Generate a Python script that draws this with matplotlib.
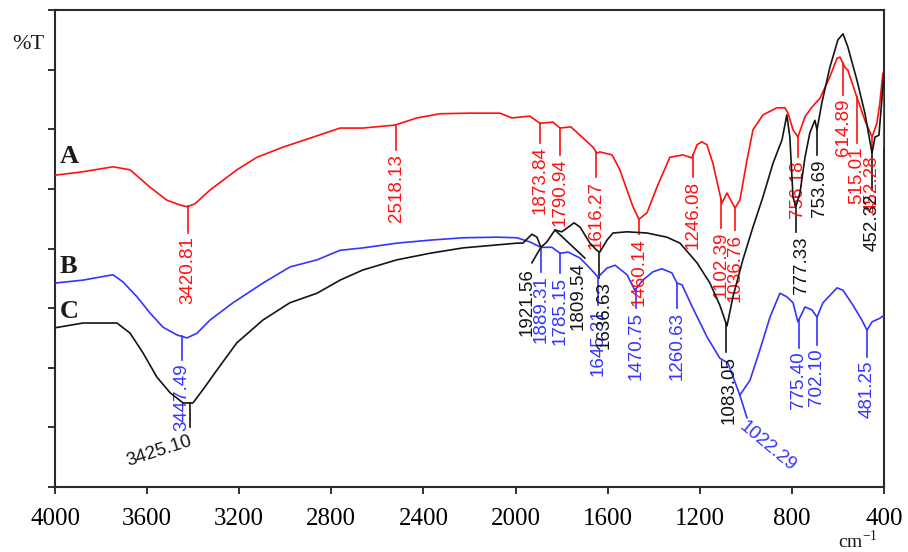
import numpy as np
import matplotlib
matplotlib.use("Agg")
import matplotlib.pyplot as plt

# ----------------------------
# Spectra (wavenumber cm-1, %T)
# ----------------------------
red_wn = [4000, 3891, 3748, 3674, 3588, 3514, 3457, 3427, 3392, 3327, 3210, 3123, 3010, 2893, 2762,
          2663, 2524, 2428, 2328, 2198, 2068, 2016, 1938, 1894, 1838, 1807, 1760, 1720, 1664, 1647,
          1634, 1581, 1547, 1516, 1490, 1464, 1429, 1386, 1330, 1273, 1234, 1212, 1191, 1169, 1143,
          1104, 1082, 1047, 1026, 995, 969, 926, 865, 830, 817, 795, 774, 743, 713, 678,
          635, 604, 591, 570, 557, 518, 483, 452, 431, 418, 405, 401, 400]
red_T = [52.3, 52.8, 53.7, 53.2, 50.3, 48.1, 47.3, 47.0, 47.5, 49.8, 53.2, 55.3, 57.0, 58.5, 60.2,
         60.2, 60.7, 61.9, 62.6, 62.7, 62.7, 61.9, 62.2, 61.0, 61.2, 60.2, 60.4, 59.0, 57.0, 56.0,
         56.2, 55.7, 53.2, 49.8, 47.0, 44.9, 46.0, 50.3, 55.3, 55.7, 55.2, 57.4, 57.9, 57.4, 54.3,
         47.6, 49.3, 46.8, 48.1, 54.8, 59.9, 62.4, 63.6, 63.6, 62.7, 59.9, 58.7, 62.1, 63.7, 65.2,
         68.8, 71.9, 72.1, 70.4, 69.9, 65.4, 61.5, 58.7, 61.0, 64.4, 69.4, 69.4, 57.0]

blue_wn = [4000, 3878, 3748, 3705, 3644, 3588, 3531, 3470, 3427, 3383, 3327, 3227, 3097, 2980, 2862,
           2762, 2663, 2515, 2372, 2228, 2081, 1994, 1938, 1890, 1842, 1807, 1772, 1720, 1677, 1642,
           1603, 1568, 1516, 1482, 1447, 1403, 1364, 1321, 1299, 1277, 1230, 1169, 1113, 1078, 1026,
           982, 939, 895, 852, 822, 795, 774, 743, 713, 691, 665, 604, 578, 535, 496, 474, 452, 418, 400]
blue_T = [34.2, 34.7, 35.6, 34.4, 31.9, 29.2, 26.8, 25.5, 25.0, 25.8, 28.0, 30.9, 34.2, 36.9, 38.1,
          39.7, 40.1, 40.9, 41.4, 41.8, 41.9, 41.8, 41.1, 40.2, 40.2, 39.2, 39.4, 38.4, 36.7, 35.2,
          36.7, 37.2, 35.6, 33.0, 34.7, 36.1, 36.6, 35.9, 34.2, 33.9, 30.0, 25.2, 21.6, 20.8, 15.4,
          17.9, 23.0, 28.5, 32.5, 31.9, 30.9, 27.7, 30.2, 29.7, 28.5, 30.9, 33.4, 33.0, 30.5, 28.0,
          26.3, 27.7, 28.3, 28.8]

black_wn = [4000, 3878, 3731, 3674, 3618, 3557, 3500, 3444, 3401, 3358, 3297, 3210, 3097, 2980, 2862,
            2762, 2663, 2515, 2372, 2228, 2081, 1994, 1968, 1929, 1907, 1890, 1864, 1829, 1799, 1746,
            1720, 1677, 1647, 1634, 1603, 1577, 1516, 1429, 1343, 1286, 1212, 1156, 1113, 1082, 1056,
            1013, 969, 926, 882, 843, 822, 809, 795, 783, 765, 743, 722, 700, 691, 670,
            635, 600, 578, 557, 518, 483, 452, 439, 422, 400]
black_T = [26.7, 27.5, 27.5, 25.8, 22.5, 18.4, 15.8, 14.1, 14.1, 16.3, 19.6, 24.2, 28.0, 30.9, 32.5,
           34.7, 36.4, 38.1, 39.2, 40.1, 40.6, 40.9, 40.9, 42.4, 41.9, 40.2, 41.1, 43.1, 42.8, 44.3,
           43.6, 40.9, 39.7, 39.4, 41.4, 42.6, 42.8, 42.6, 41.9, 40.9, 37.6, 34.2, 30.5, 27.0, 31.9,
           38.1, 43.6, 48.6, 54.3, 58.2, 62.4, 58.7, 48.6, 47.0, 49.3, 55.3, 59.4, 61.5, 59.9, 64.4,
           70.4, 75.0, 76.0, 73.8, 68.3, 62.7, 56.0, 58.7, 59.0, 69.4]

# peak labels and where their markers sit
red_peaks = ["3420.81", "2518.13", "1873.84", "1790.94", "1616.27", "1460.14", "1246.08",
             "1102.39", "1036.76", "756.18", "614.89", "515.01", "452.28"]
red_peak_wn = [3422, 2519, 1894, 1807, 1651, 1464, 1230, 1108, 1047, 774, 578, 518, 452]

blue_peaks = ["3447.49", "1889.31", "1785.15", "1645.31", "1470.75", "1260.63", "1022.29",
              "775.40", "702.10", "481.25"]
blue_peak_wn = [3449, 1890, 1807, 1642, 1477, 1299, 1026, 770, 691, 474]

black_peaks = ["3425.10", "1921.56", "1809.54", "1636.63", "1083.05", "777.33", "753.69", "452.32"]
black_peak_wn = [3414, 1890, 1829, 1638, 1086, 783, 691, 452]

x_ticks = [4000, 3600, 3200, 2800, 2400, 2000, 1600, 1200, 800, 400]

# ----------------------------
# Layout of the labels: leader end (wn, T); text goes under it unless overridden
# ----------------------------
red_lay = [(3422, 42.6), (2519, 56.5), (1894, 57.7), (1807, 55.7), (1651, 52.0), (1464, 42.4),
           (1230, 52.0), (1108, 43.4), (1047, 43.1), (774, 55.3), (578, 65.7), (518, 57.7), (452, 56.2)]
blue_lay = [(3449, 21.3), (1890, 36.1), (1807, 35.9), (1642, 30.5), (1477, 30.0), (1299, 30.0),
            (995, 11.6), (770, 23.3), (691, 23.8), (474, 21.8)]
black_lay = [(3414, 10.1), (1929, 37.6), (1699, 38.4), (1638, 35.1), (1086, 22.6), (783, 42.8),
             (691, 55.7), (452, 49.8)]
# text anchor overrides: (wn, T, rotation, ha, va)
black_text = {0: (3401, 7.0, 18, "right", "baseline"),
              1: (1948, 36.7, 90, "center", "top"),
              2: (1729, 37.7, 90, "center", "top"),
              3: (1616, 34.6, 90, "center", "top"),
              4: (1073, 22.0, 90, "center", "top"),
              5: (757, 42.0, 90, "center", "top"),
              6: (678, 55.0, 90, "center", "top"),
              7: (452, 49.3, 90, "center", "top")}
blue_text = {6: (995, 11.6, -40, "left", "top")}

RED, BLUE, BLACK = "#ff1010", "#3434ff", "#141414"
LABEL_FONT = dict(family="Liberation Sans", fontsize=13.5)

fig = plt.figure(figsize=(9.08, 5.52), dpi=100)
ax = fig.add_axes([55 / 908, 65 / 552, 829 / 908, 477 / 552])

ax.plot(red_wn, red_T, color=RED, lw=1.2, zorder=3)
ax.plot(blue_wn, blue_T, color=BLUE, lw=1.2, zorder=3)
ax.plot(black_wn, black_T, color=BLACK, lw=1.2, zorder=4)


def label_peaks(wn, T, peaks, peak_wn, lay, color, text_over):
    xs, ys = np.array(wn)[::-1], np.array(T)[::-1]
    for i, (lab, pw) in enumerate(zip(peaks, peak_wn)):
        y0 = np.interp(pw, xs, ys)
        ex, ey = lay[i]
        ax.plot([pw, ex], [y0, ey], color=color, lw=1.2, zorder=2)
        if i in text_over:
            tx, ty, rot, ha, va = text_over[i]
        else:
            tx, ty, rot, ha, va = ex, ey - 0.6, 90, "center", "top"
        ax.text(tx, ty, lab, rotation=rot, ha=ha, va=va, color=color,
                rotation_mode="default" if rot == 90 else "anchor", **LABEL_FONT)


label_peaks(red_wn, red_T, red_peaks, red_peak_wn, red_lay, RED, {})
label_peaks(blue_wn, blue_T, blue_peaks, blue_peak_wn, blue_lay, BLUE, blue_text)
label_peaks(black_wn, black_T, black_peaks, black_peak_wn, black_lay, BLACK, black_text)

# curve letters
for lab, y in zip(["A", "B", "C"], [54.3, 35.9, 28.3]):
    ax.text(3978, y, lab, fontsize=19, fontweight="bold", family="Liberation Serif",
            color="#1a1a1a", ha="left", va="baseline")

ax.set_xlim(4000, 400)
ax.set_ylim(0, 80)
ax.set_xticks(x_ticks)
ax.set_xticklabels([str(t) for t in x_ticks], family="Liberation Serif", fontsize=18)
ax.set_yticks(range(0, 81, 10))
ax.set_yticklabels([])
ax.tick_params(axis="both", direction="out", length=5, width=1.3, color="#222222")
ax.tick_params(axis="x", pad=10)
for s in ax.spines.values():
    s.set_linewidth(1.5)
    s.set_color("#2a2a2a")

fig.text(12 / 908, 1 - 49 / 552, "%T", family="Liberation Serif", fontsize=16,
         ha="left", va="baseline", color="#1a1a1a")
fig.text(858 / 908, 0, r"cm$^{\mathregular{-1}}$", family="Liberation Serif",
         fontsize=14, ha="center", va="bottom", color="#1a1a1a")

plt.savefig("out.png", dpi=100)
